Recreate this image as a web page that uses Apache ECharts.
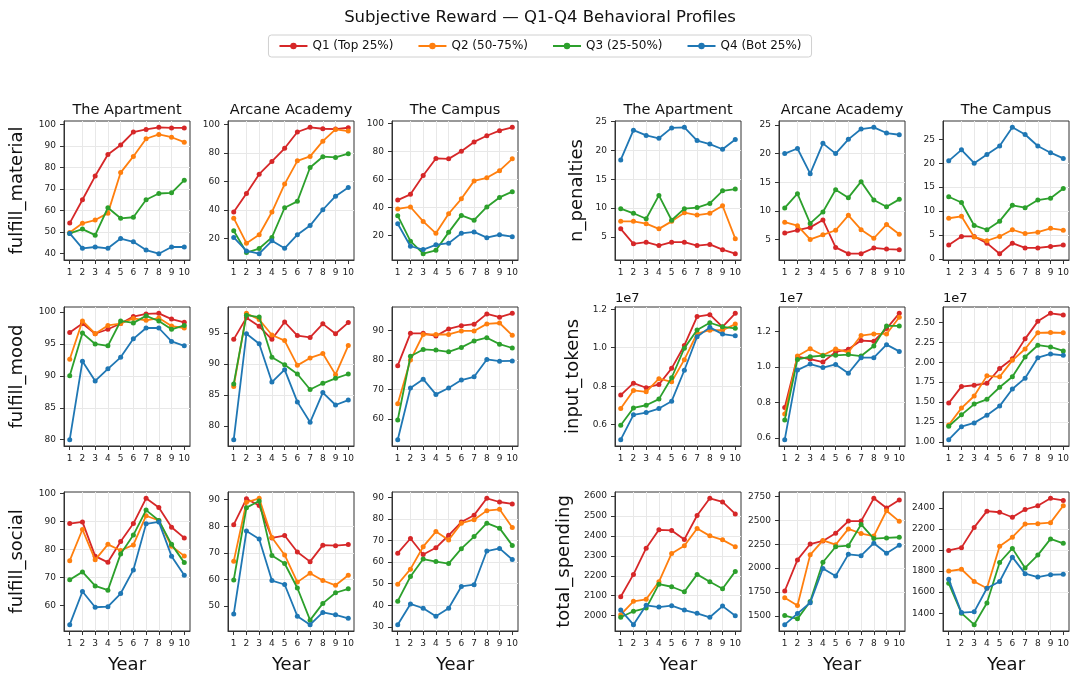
<!DOCTYPE html>
<html>
<head>
<meta charset="utf-8">
<script src="https://cdn.jsdelivr.net/npm/echarts@6/dist/echarts.min.js"></script>
<style>
html,body{margin:0;padding:0;background:#ffffff;}
#c{width:1080px;height:684px;}
</style>
</head>
<body>
<div id="c"></div>
<script>
// ---------------- data ----------------
const years = [1, 2, 3, 4, 5, 6, 7, 8, 9, 10];
const seriesNames = ['Q1 (Top 25%)', 'Q2 (50-75%)', 'Q3 (25-50%)', 'Q4 (Bot 25%)'];
const mapNames = ['The Apartment', 'Arcane Academy', 'The Campus'];
const mainTitle = 'Subjective Reward \u2014 Q1-Q4 Behavioral Profiles';
const xLabel = 'Year';

// each array: [Q1, Q2, Q3, Q4]
const materialApartment = [
  [54.2, 65.0, 76.0, 86.0, 90.4, 96.4, 97.6, 98.6, 98.3, 98.3],
  [49.8, 54.1, 55.6, 58.8, 77.6, 85.1, 93.3, 95.3, 94.0, 91.7],
  [49.4, 51.4, 48.6, 61.3, 56.4, 56.9, 65.0, 67.9, 68.2, 74.1],
  [49.4, 42.5, 43.1, 42.5, 47.0, 45.5, 41.7, 40.0, 43.1, 43.1]
];
const materialArcane = [
  [38.5, 51.5, 65.0, 74.0, 83.2, 94.6, 97.9, 96.9, 96.7, 97.6],
  [34.2, 16.7, 22.6, 38.5, 58.1, 74.4, 77.5, 88.2, 96.4, 95.3],
  [25.4, 10.1, 12.9, 20.7, 41.5, 46.0, 69.7, 77.3, 76.8, 79.4],
  [20.7, 11.2, 9.3, 18.3, 13.1, 22.6, 29.0, 40.1, 49.6, 55.7]
];
const materialCampus = [
  [45.2, 49.3, 62.8, 74.9, 74.6, 80.0, 86.7, 91.1, 94.7, 97.1],
  [38.9, 40.3, 30.0, 21.5, 35.5, 46.1, 58.9, 61.1, 66.2, 74.6],
  [34.1, 15.9, 7.0, 9.4, 22.2, 34.3, 30.9, 40.3, 47.1, 51.2],
  [28.3, 12.3, 9.9, 13.3, 14.5, 21.5, 22.5, 18.4, 20.5, 19.1]
];
const penaltiesApartment = [
  [6.4, 3.8, 4.1, 3.5, 4.1, 4.1, 3.5, 3.7, 2.8, 2.1],
  [7.7, 7.7, 7.3, 6.4, 7.7, 9.2, 8.8, 9.1, 10.4, 4.7],
  [9.9, 9.1, 8.15, 12.2, 7.9, 9.9, 10.1, 10.8, 13.0, 13.3],
  [18.35, 23.5, 22.6, 22.1, 23.9, 24.0, 21.7, 21.1, 20.2, 21.9]
];
const penaltiesArcane = [
  [6.1, 6.6, 7.1, 8.4, 3.6, 2.5, 2.5, 3.5, 3.3, 3.2],
  [8.0, 7.4, 5.0, 5.8, 6.6, 9.2, 6.7, 5.2, 7.6, 5.9],
  [10.5, 13.0, 7.8, 9.8, 13.7, 12.3, 15.1, 11.9, 10.7, 12.0],
  [20.0, 20.9, 16.5, 21.8, 20.0, 22.5, 24.3, 24.6, 23.6, 23.3]
];
const penaltiesCampus = [
  [2.9, 4.7, 4.7, 3.3, 1.1, 3.3, 2.3, 2.3, 2.6, 2.9],
  [8.5, 8.9, 4.6, 3.8, 4.7, 6.1, 5.3, 5.6, 6.4, 6.0],
  [13.0, 11.8, 7.0, 6.1, 7.9, 11.2, 10.7, 12.3, 12.7, 14.7],
  [20.5, 22.8, 20.0, 21.8, 23.6, 27.5, 26.0, 23.6, 22.2, 21.0]
];
const moodApartment = [
  [96.8, 98.2, 96.6, 97.3, 98.2, 99.3, 99.7, 99.8, 98.9, 98.4],
  [92.6, 98.6, 96.6, 97.9, 98.2, 99.0, 98.7, 99.05, 97.8, 97.5],
  [90.0, 96.7, 95.0, 94.7, 98.6, 98.3, 99.4, 98.6, 97.3, 97.9],
  [80.0, 92.3, 89.2, 91.1, 92.9, 95.8, 97.5, 97.5, 95.4, 94.7]
];
const moodArcane = [
  [94.0, 97.5, 96.1, 94.0, 96.8, 94.6, 94.3, 96.5, 94.9, 96.7],
  [86.4, 98.2, 97.2, 94.7, 93.8, 89.8, 91.0, 91.7, 88.3, 93.0],
  [86.8, 97.9, 97.6, 91.1, 89.9, 88.4, 85.9, 86.9, 87.7, 88.4],
  [77.8, 94.9, 93.3, 87.1, 89.1, 83.9, 80.6, 85.4, 83.4, 84.2]
];
const moodCampus = [
  [78.1, 89.1, 89.1, 88.2, 90.6, 91.7, 92.2, 95.7, 94.6, 95.9],
  [65.1, 80.0, 88.7, 88.7, 88.7, 89.9, 89.9, 92.3, 92.6, 88.4],
  [59.6, 81.3, 83.6, 83.4, 82.8, 84.3, 86.5, 87.6, 85.4, 84.1],
  [52.9, 70.5, 73.5, 68.3, 70.5, 73.2, 74.3, 80.2, 79.6, 79.7]
];
// input tokens, in units of 1e7
const tokensApartment = [
  [0.754, 0.816, 0.792, 0.809, 0.893, 1.012, 1.162, 1.172, 1.108, 1.179],
  [0.684, 0.778, 0.771, 0.839, 0.823, 0.938, 1.074, 1.091, 1.091, 1.123],
  [0.597, 0.687, 0.701, 0.733, 0.844, 0.998, 1.092, 1.130, 1.109, 1.101],
  [0.522, 0.651, 0.663, 0.684, 0.722, 0.883, 1.057, 1.106, 1.071, 1.062]
];
const tokensArcane = [
  [0.772, 1.057, 1.044, 1.027, 1.084, 1.099, 1.148, 1.144, 1.215, 1.301],
  [0.735, 1.061, 1.102, 1.065, 1.101, 1.082, 1.176, 1.185, 1.185, 1.279],
  [0.701, 1.042, 1.057, 1.063, 1.065, 1.069, 1.061, 1.117, 1.230, 1.230],
  [0.591, 0.982, 1.016, 0.996, 1.014, 0.964, 1.052, 1.052, 1.125, 1.087]
];
const tokensCampus = [
  [1.486, 1.693, 1.710, 1.735, 1.921, 2.044, 2.293, 2.513, 2.614, 2.593],
  [1.211, 1.423, 1.575, 1.828, 1.816, 2.023, 2.166, 2.369, 2.373, 2.369],
  [1.195, 1.338, 1.473, 1.533, 1.685, 1.816, 2.065, 2.213, 2.192, 2.141],
  [1.026, 1.190, 1.237, 1.334, 1.448, 1.663, 1.799, 2.056, 2.103, 2.086]
];
const socialApartment = [
  [89.2, 89.8, 77.6, 75.4, 82.8, 89.2, 98.2, 94.9, 87.9, 84.1],
  [76.0, 87.1, 76.3, 81.8, 79.6, 81.6, 92.0, 90.3, 81.1, 77.7],
  [69.2, 72.0, 67.0, 65.5, 78.4, 85.1, 94.0, 90.3, 81.8, 75.3],
  [53.2, 65.0, 59.4, 59.6, 64.3, 72.7, 89.1, 89.8, 77.6, 70.8]
];
const socialArcane = [
  [80.6, 90.3, 87.8, 75.6, 76.5, 70.3, 66.7, 72.9, 72.7, 73.1],
  [66.8, 89.0, 90.5, 75.8, 69.2, 59.0, 62.3, 59.6, 57.8, 61.6],
  [59.8, 87.0, 89.5, 69.0, 66.0, 56.8, 44.7, 51.0, 55.0, 56.5],
  [47.0, 78.2, 75.2, 59.6, 58.1, 46.2, 43.0, 47.6, 46.7, 45.4]
];
const socialCampus = [
  [64.1, 70.9, 63.5, 66.6, 72.4, 78.5, 81.7, 89.5, 87.8, 86.9],
  [49.7, 56.7, 67.1, 74.1, 70.2, 78.0, 79.6, 83.8, 84.4, 76.0],
  [41.9, 53.3, 61.4, 60.2, 59.3, 66.2, 71.8, 78.0, 75.7, 67.7],
  [31.0, 40.6, 38.6, 34.9, 38.6, 48.7, 49.5, 65.1, 66.3, 61.2]
];
const spendingApartment = [
  [2095, 2207, 2338, 2430, 2427, 2382, 2502, 2588, 2570, 2510],
  [2005, 2072, 2082, 2170, 2312, 2350, 2437, 2400, 2380, 2345],
  [1992, 2022, 2038, 2158, 2145, 2120, 2207, 2170, 2135, 2222],
  [2028, 1955, 2052, 2043, 2050, 2028, 2012, 1992, 2048, 2000]
];
const spendingArcane = [
  [1761, 2086, 2252, 2284, 2365, 2492, 2492, 2730, 2628, 2712],
  [1690, 1609, 2139, 2290, 2245, 2410, 2362, 2335, 2600, 2489],
  [1504, 1470, 1652, 2062, 2224, 2235, 2457, 2309, 2316, 2323],
  [1409, 1525, 1638, 1996, 1918, 2144, 2130, 2261, 2155, 2240]
];
const spendingCampus = [
  [1996, 2022, 2214, 2368, 2358, 2310, 2384, 2419, 2490, 2470],
  [1800, 1817, 1701, 1637, 2035, 2121, 2246, 2249, 2259, 2419],
  [1683, 1400, 1291, 1496, 1881, 2015, 1829, 1951, 2105, 2063],
  [1721, 1406, 1413, 1637, 1701, 1932, 1775, 1743, 1765, 1769]
];

// ---------------- layout / style ----------------
const colors = ['#d62728', '#ff7f0e', '#2ca02c', '#1f77b4'];
const FONT = 'DejaVu Sans';
const colLefts = [64, 228, 392, 615, 779, 943];
const rowTops = [121, 307, 492];
const PW = 126, PH = 139;

const panels = [
  {r:0, c:0, d:materialApartment, iv:10,  dec:0, name:'fulfill_material', gap:38},
  {r:0, c:1, d:materialArcane,    iv:20,  dec:0},
  {r:0, c:2, d:materialCampus,    iv:20,  dec:0},
  {r:0, c:3, d:penaltiesApartment,iv:5,   dec:0, name:'n_penalties', gap:29},
  {r:0, c:4, d:penaltiesArcane,   iv:5,   dec:0},
  {r:0, c:5, d:penaltiesCampus,   iv:5,   dec:0},
  {r:1, c:0, d:moodApartment,     iv:5,   dec:0, name:'fulfill_mood', gap:38},
  {r:1, c:1, d:moodArcane,        iv:5,   dec:0},
  {r:1, c:2, d:moodCampus,        iv:10,  dec:0},
  {r:1, c:3, d:tokensApartment,   iv:0.2, dec:1, name:'input_tokens', gap:33, off:true},
  {r:1, c:4, d:tokensArcane,      iv:0.2, dec:1, off:true},
  {r:1, c:5, d:tokensCampus,      iv:0.25,dec:2, off:true},
  {r:2, c:0, d:socialApartment,   iv:10,  dec:0, name:'fulfill_social', gap:38},
  {r:2, c:1, d:socialArcane,      iv:10,  dec:0},
  {r:2, c:2, d:socialCampus,      iv:10,  dec:0},
  {r:2, c:3, d:spendingApartment, iv:100, dec:0, name:'total_spending', gap:42},
  {r:2, c:4, d:spendingArcane,    iv:250, dec:0},
  {r:2, c:5, d:spendingCampus,    iv:200, dec:0}
];

function ticksIn(lo, hi, iv) {
  const out = [];
  for (let k = Math.ceil(lo / iv - 1e-9); k * iv <= hi + 1e-9; k++) {
    out.push(Math.round(k * iv * 1e6) / 1e6);
  }
  return out;
}
function isMultiple(v, iv) {
  const k = v / iv;
  return Math.abs(k - Math.round(k)) < 1e-6;
}

const grids = [], xAxes = [], yAxes = [], series = [], graphics = [];
const xMin = 0.55, xMax = 10.45;

panels.forEach((p, i) => {
  const left = colLefts[p.c], top = rowTops[p.r];
  grids.push({left: left, top: top, width: PW, height: PH, containLabel: false,
    show: true, borderColor: '#333', borderWidth: 1, backgroundColor: 'transparent'});

  const all = [].concat(...p.d);
  const lo = Math.min(...all), hi = Math.max(...all);
  const pad = (hi - lo) * 0.05;
  const yMin = lo - pad, yMax = hi + pad;
  const yT = ticksIn(yMin, yMax, p.iv);

  xAxes.push({
    gridIndex: i, type: 'value', min: xMin, max: xMax, minInterval: 1, maxInterval: 1,
    axisLine: {show: true, onZero: false, lineStyle: {color: '#333', width: 1}},
    axisTick: {show: true, length: 4, lineStyle: {color: '#333', width: 1}, customValues: years},
    axisLabel: {show: true, fontSize: 9, color: '#222', fontFamily: FONT, margin: 8, customValues: years,
      formatter: v => (isMultiple(v, 1) && v >= 1 && v <= 10) ? String(Math.round(v)) : ''},
    splitLine: {show: true, showMinLine: false, showMaxLine: false, lineStyle: {color: '#e8e8e8', width: 1}},
    name: p.r === 2 ? xLabel : '', nameLocation: 'middle', nameGap: 25,
    nameTextStyle: {fontSize: 18, color: '#111', fontFamily: FONT}
  });

  yAxes.push({
    gridIndex: i, type: 'value', min: yMin, max: yMax, minInterval: p.iv, maxInterval: p.iv,
    axisLine: {show: true, onZero: false, lineStyle: {color: '#333', width: 1}},
    axisTick: {show: true, length: 4, lineStyle: {color: '#333', width: 1}, customValues: yT},
    axisLabel: {show: true, fontSize: 9, color: '#222', fontFamily: FONT, margin: 8, customValues: yT,
      formatter: v => isMultiple(v, p.iv) ? v.toFixed(p.dec) : ''},
    splitLine: {show: true, showMinLine: false, showMaxLine: false, lineStyle: {color: '#e8e8e8', width: 1}},
    name: p.name || '', nameLocation: 'middle', nameGap: p.gap || 30, nameRotate: 90,
    nameTextStyle: {fontSize: 18, color: '#111', fontFamily: FONT}
  });

  p.d.forEach((vals, q) => {
    series.push({
      type: 'line', name: seriesNames[q], xAxisIndex: i, yAxisIndex: i,
      data: years.map((y, k) => [y, vals[k]]),
      symbol: 'circle', symbolSize: 5, showSymbol: true,
      lineStyle: {color: colors[q], width: 1.8},
      itemStyle: {color: colors[q]},
      emphasis: {disabled: true}, z: 2 + q
    });
  });

  if (p.r === 0) {
    graphics.push({type: 'text', x: left + PW / 2, y: 110,
      style: {text: mapNames[p.c % 3], fontSize: 14.5, fontFamily: FONT, fill: '#111',
        align: 'center', verticalAlign: 'middle', textAlign: 'center', textVerticalAlign: 'middle'}});
  }
  if (p.off) {
    graphics.push({type: 'text', x: left, y: top - 2,
      style: {text: '1e7', fontSize: 13, fontFamily: FONT, fill: '#111',
        align: 'left', verticalAlign: 'bottom', textAlign: 'left', textVerticalAlign: 'bottom'}});
  }
});

graphics.push({type: 'text', x: 540, y: 18,
  style: {text: mainTitle, fontSize: 16.5, fontFamily: FONT, fill: '#111',
    align: 'center', verticalAlign: 'middle', textAlign: 'center', textVerticalAlign: 'middle'}});

const chart = echarts.init(document.getElementById('c'), null, {renderer: 'canvas'});
chart.setOption({
  animation: false,
  backgroundColor: '#ffffff',
  textStyle: {fontFamily: FONT},
  legend: {
    data: seriesNames, top: 35, left: 'center',
    itemWidth: 28, itemHeight: 8, itemGap: 24,
    padding: [5, 10], borderColor: '#d0d0d0', borderWidth: 1, borderRadius: 3,
    backgroundColor: '#ffffff',
    textStyle: {fontSize: 12, color: '#111', fontFamily: FONT}
  },
  grid: grids,
  xAxis: xAxes,
  yAxis: yAxes,
  series: series,
  graphic: graphics
});
</script>
</body>
</html>
